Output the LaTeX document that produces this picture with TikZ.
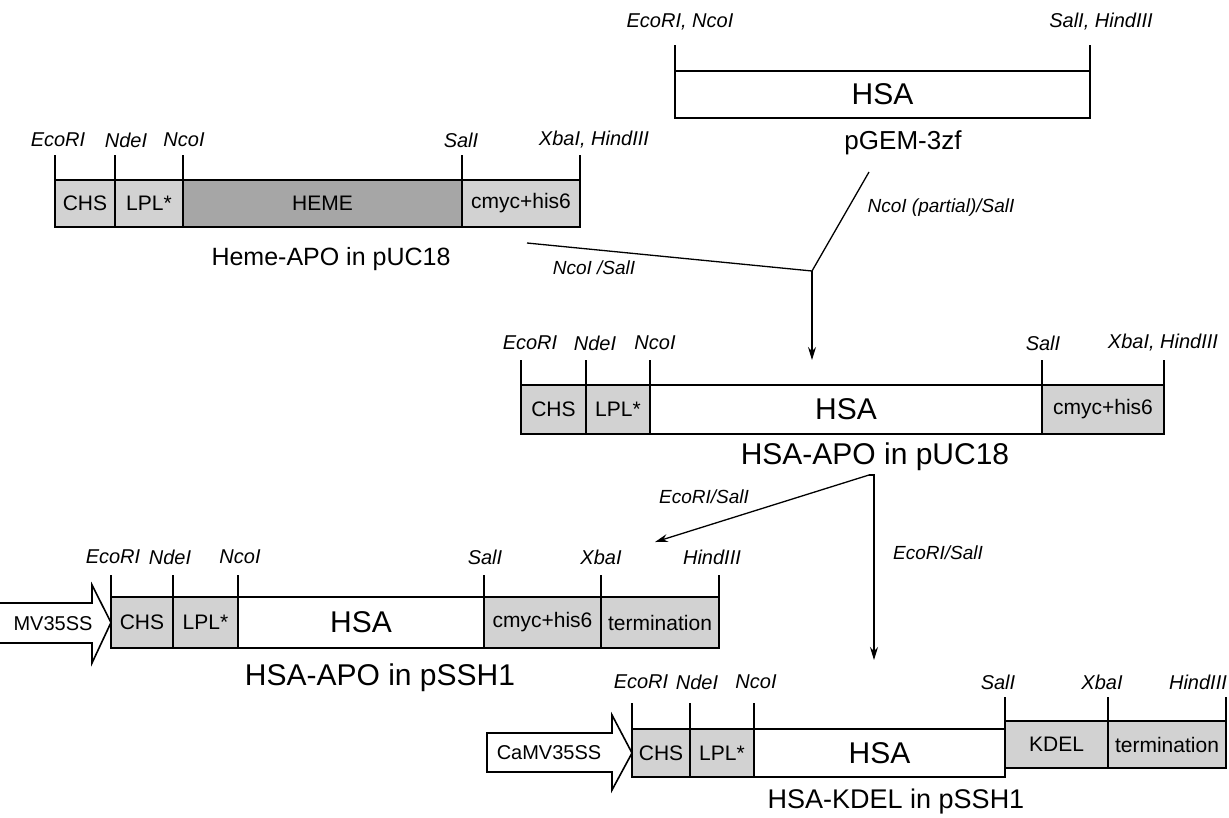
\documentclass[tikz,border=0pt]{standalone}
\usepackage{fontspec}
\setmainfont{Liberation Sans}
\usetikzlibrary{arrows.meta}
\definecolor{lgray}{HTML}{D2D2D2}
\definecolor{dgray}{HTML}{A6A6A6}
\begin{document}
\begin{tikzpicture}[x=1pt,y=-1pt,
  seg/.style={draw, line width=1.6pt, inner sep=0pt, outer sep=0pt, anchor=north west, font=\fontsize{21}{24}\selectfont},
  lt/.style={seg, fill=lgray},
  dk/.style={seg, fill=dgray},
  wt/.style={seg, fill=white},
  big/.style={font=\fontsize{30}{34}\selectfont},
  enz/.style={font=\fontsize{20}{24}\selectfont\itshape, inner sep=0pt},
  alab/.style={font=\fontsize{19}{22}\selectfont\itshape, inner sep=0pt},
  captxt/.style={inner sep=0pt},
  tick/.style={line width=1.1pt},
  conn/.style={line width=1.3pt},
  arr/.style={conn, -{Stealth[length=13pt,width=8pt]}},
  prom/.style={draw, line width=1.6pt, fill=white},
]
\useasboundingbox (0,0) rectangle (1229,817);
\fill[white] (0,0) rectangle (1229,817);

% ---------- Block A: pGEM-3zf ----------
\node[wt, big, minimum width=415pt, minimum height=47pt] (a1) at (675,71) {HSA};
\draw[tick] (a1.north west) -- ++(0,-26);
\draw[tick] (a1.north east) -- ++(0,-26);
\node[enz] (a1e) at (680,22) {EcoRI, NcoI};
\node[enz] (a1s) at (1101,22) {SalI, HindIII};
\node[captxt, font=\fontsize{26}{30}\selectfont] (acap) at (903,143) {pGEM-3zf};

% ---------- Block B: Heme-APO in pUC18 ----------
\node[lt, minimum width=60pt, minimum height=47pt] (b1) at (55,180) {CHS};
\node[lt, minimum width=68pt, minimum height=47pt] (b2) at (115,180) {LPL*};
\node[dk, minimum width=279pt, minimum height=47pt] (b3) at (183,180) {HEME};
\node[lt, minimum width=118pt, minimum height=47pt] (b4) at (462,180) {cmyc+his6};
\foreach \n in {b1,b2,b3,b4} \draw[tick] (\n.north west) -- ++(0,-25);
\draw[tick] (b4.north east) -- ++(0,-25);
\node[enz] (b1l) at (58,140) {EcoRI};
\node[enz] (b2l) at (126,140) {NdeI};
\node[enz] (b3l) at (184,140) {NcoI};
\node[enz] (b4l) at (461,140) {SalI};
\node[enz] (b5l) at (594,140) {XbaI, HindIII};
\node[captxt, font=\fontsize{25}{29}\selectfont] (bcap) at (331,259) {Heme-APO in pUC18};

% ---------- connectors to block C ----------
\coordinate (p1) at (527,243);
\coordinate (p2) at (869,172);
\coordinate (j1) at (812,271);
\coordinate (t1) at (812,360);
\draw[conn] (p1) -- (j1);
\draw[conn] (p2) -- (j1);
\draw[arr] (j1) -- (t1);
\node[alab] (l1) at (594,268) {NcoI /SalI};
\node[alab] (l2) at (941,208) {NcoI (partial)/SalI};

% ---------- Block C: HSA-APO in pUC18 ----------
\node[lt, minimum width=65pt, minimum height=49pt] (c1) at (521,385) {CHS};
\node[lt, minimum width=64pt, minimum height=49pt] (c2) at (586,385) {LPL*};
\node[wt, big, minimum width=392pt, minimum height=49pt] (c3) at (650,385) {HSA};
\node[lt, minimum width=122pt, minimum height=49pt] (c4) at (1042,385) {cmyc+his6};
\foreach \n in {c1,c2,c3,c4} \draw[tick] (\n.north west) -- ++(0,-25);
\draw[tick] (c4.north east) -- ++(0,-25);
\node[enz] (c1l) at (530,343) {EcoRI};
\node[enz] (c2l) at (595,343) {NdeI};
\node[enz] (c3l) at (655,343) {NcoI};
\node[enz] (c4l) at (1043,343) {SalI};
\node[enz] (c5l) at (1163,343) {XbaI, HindIII};
\node[captxt, font=\fontsize{30}{34}\selectfont] (ccap) at (875,457) {HSA-APO in pUC18};

% ---------- connectors to blocks D and E ----------
\coordinate (j2) at (869,475);
\coordinate (t2) at (655,542);
\coordinate (t3) at (874,660);
\draw[arr] (j2) -- (t2);
\draw[arr] (j2) -| (t3);
\node[alab] (l3) at (704,497) {EcoRI/SalI};
\node[alab] (l4) at (938,553) {EcoRI/SalI};

% ---------- Block D: HSA-APO in pSSH1 ----------
\node[lt, minimum width=62pt, minimum height=51pt] (d1) at (111,597) {CHS};
\node[lt, minimum width=65pt, minimum height=51pt] (d2) at (173,597) {LPL*};
\node[wt, big, minimum width=246pt, minimum height=51pt] (d3) at (238,597) {HSA};
\node[lt, minimum width=117pt, minimum height=51pt] (d4) at (484,597) {cmyc+his6};
\node[lt, minimum width=118pt, minimum height=51pt] (d5) at (601,597) {termination};
\foreach \n in {d1,d2,d3,d4,d5} \draw[tick] (\n.north west) -- ++(0,-22);
\draw[tick] (d5.north east) -- ++(0,-22);
\node[enz] (d1l) at (113,557) {EcoRI};
\node[enz] (d2l) at (170,557) {NdeI};
\node[enz] (d3l) at (240,557) {NcoI};
\node[enz] (d4l) at (485,557) {SalI};
\node[enz] (d5l) at (601,557) {XbaI};
\node[enz] (d6l) at (712,557) {HindIII};
\draw[prom] (-2,603) -- (92,603) -- (92,585) -- (d1.west) -- (92,663) -- (92,643) -- (-2,643);
\node[font=\fontsize{20}{24}\selectfont, inner sep=0pt] (dp) at (53,624) {MV35SS};
\node[captxt, font=\fontsize{30}{34}\selectfont] (dcap) at (380,678) {HSA-APO in pSSH1};

% ---------- Block E: HSA-KDEL in pSSH1 ----------
\node[lt, minimum width=58pt, minimum height=48pt] (e1) at (632,729) {CHS};
\node[lt, minimum width=64pt, minimum height=48pt] (e2) at (690,729) {LPL*};
\node[wt, big, minimum width=251pt, minimum height=48pt] (e3) at (754,729) {HSA};
\node[lt, minimum width=103pt, minimum height=47pt] (e4) at (1005,721) {KDEL};
\node[lt, minimum width=118pt, minimum height=47pt] (e5) at (1108,721) {termination};
\foreach \n in {e1,e2,e3} \draw[tick] (\n.north west) -- ++(0,-26);
\foreach \n in {e4,e5} \draw[tick] (\n.north west) -- ++(0,-24);
\draw[tick] (e5.north east) -- ++(0,-24);
\node[enz] (e1l) at (641,682) {EcoRI};
\node[enz] (e2l) at (697,682) {NdeI};
\node[enz] (e3l) at (756,682) {NcoI};
\node[enz] (e4l) at (998,682) {SalI};
\node[enz] (e5l) at (1102,682) {XbaI};
\node[enz] (e6l) at (1198,682) {HindIII};
\draw[prom] (487,733) -- (612,733) -- (612,715) -- (e1.west) -- (612,790) -- (612,772) -- (487,772) -- cycle;
\node[font=\fontsize{20}{24}\selectfont, inner sep=0pt] (ep) at (549,753) {CaMV35SS};
\node[captxt, font=\fontsize{27}{31}\selectfont] (ecap) at (896,802) {HSA-KDEL in pSSH1};
\end{tikzpicture}
\end{document}
